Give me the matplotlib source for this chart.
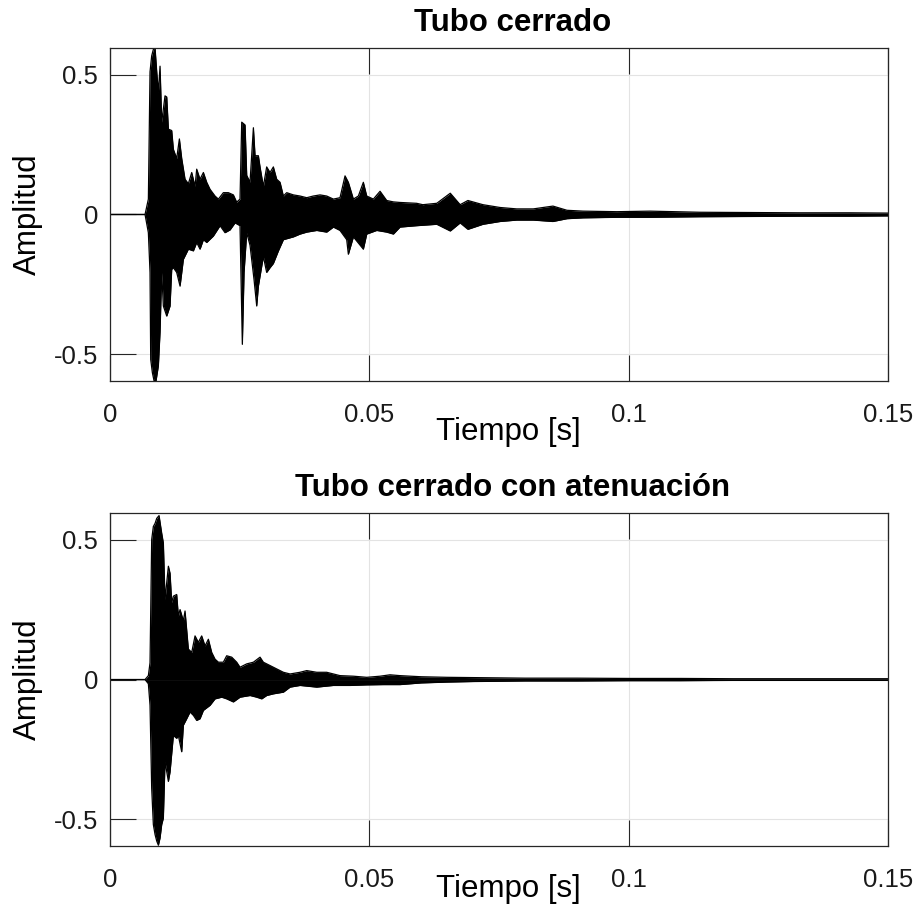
#!/usr/bin/env python3
"""
Respuesta al impulso de un tubo cerrado, con y sin atenuacion.
Envolventes (picos superior / inferior) leidas de la grafica original.
"""

import matplotlib
matplotlib.use("Agg")
import matplotlib.pyplot as plt

# --- Tubo cerrado: picos positivos (tiempo [s], amplitud) ---
closed_t_hi = [0.0, 0.00675, 0.00739, 0.00771, 0.00803, 0.00835, 0.00868, 0.00900, 0.00932, 0.00964,
               0.00996, 0.01060, 0.01093, 0.01125, 0.01189, 0.01221, 0.01285, 0.01337, 0.01382, 0.01446,
               0.01510, 0.01575, 0.01639, 0.01671, 0.01735, 0.01800, 0.01864, 0.01928, 0.02024, 0.02089,
               0.02185, 0.02281, 0.02378, 0.02442, 0.02506, 0.02539, 0.02603, 0.02635, 0.02699, 0.02764,
               0.02796, 0.02860, 0.02892, 0.02956, 0.03020, 0.03085, 0.03149, 0.03213, 0.03278, 0.03342,
               0.03406, 0.03535, 0.03663, 0.03792, 0.03920, 0.04049, 0.04177, 0.04306, 0.04434, 0.04531,
               0.04595, 0.04692, 0.04788, 0.04884, 0.04949, 0.05077, 0.05206, 0.05334, 0.05463, 0.05591,
               0.0591, 0.0603, 0.0630, 0.0656, 0.0675, 0.0690, 0.0719, 0.0752, 0.0784, 0.0816,
               0.0854, 0.0881, 0.0912, 0.0977, 0.1041, 0.1137, 0.1234, 0.1330, 0.1427, 0.1500]
closed_hi = [0.0, 0.0, 0.055, 0.51, 0.567, 0.59, 0.594, 0.51, 0.437, 0.53,
             0.33, 0.424, 0.42, 0.305, 0.30, 0.233, 0.20, 0.27, 0.20, 0.126,
             0.11, 0.15, 0.10, 0.162, 0.126, 0.15, 0.115, 0.09, 0.066, 0.055,
             0.078, 0.078, 0.07, 0.044, 0.055, 0.33, 0.32, 0.14, 0.115, 0.31,
             0.21, 0.21, 0.17, 0.10, 0.17, 0.15, 0.17, 0.126, 0.115, 0.066,
             0.078, 0.07, 0.066, 0.06, 0.066, 0.07, 0.066, 0.055, 0.06, 0.138,
             0.115, 0.055, 0.066, 0.115, 0.066, 0.055, 0.083, 0.05, 0.045, 0.043,
             0.04, 0.035, 0.04, 0.076, 0.035, 0.05, 0.035, 0.025, 0.02, 0.02,
             0.03, 0.015, 0.012, 0.01, 0.012, 0.008, 0.007, 0.006, 0.006, 0.005]

# --- Tubo cerrado: picos negativos ---
closed_t_lo = [0.0, 0.00675, 0.00739, 0.00771, 0.00784, 0.00816, 0.00848, 0.00887, 0.00932, 0.00964,
               0.00996, 0.01028, 0.01093, 0.01157, 0.01189, 0.01221, 0.01285, 0.01350, 0.01414, 0.01510,
               0.01607, 0.01671, 0.01735, 0.01800, 0.01864, 0.01992, 0.02121, 0.02217, 0.02314, 0.02410,
               0.02506, 0.02551, 0.02584, 0.02635, 0.02699, 0.02776, 0.02828, 0.02860, 0.02956, 0.03020,
               0.03085, 0.03149, 0.03246, 0.03342, 0.03535, 0.03663, 0.03792, 0.03985, 0.04177, 0.04306,
               0.04434, 0.04563, 0.04595, 0.04692, 0.04884, 0.04949, 0.05141, 0.05334, 0.05463, 0.05591,
               0.0591, 0.0630, 0.0656, 0.0675, 0.0690, 0.0719, 0.0752, 0.0784, 0.0816, 0.0854,
               0.0881, 0.0912, 0.0977, 0.1041, 0.1137, 0.1234, 0.1330, 0.1427, 0.1500]
closed_lo = [0.0, 0.0, -0.065, -0.207, -0.518, -0.565, -0.594, -0.594, -0.54, -0.42,
             -0.207, -0.327, -0.363, -0.327, -0.196, -0.19, -0.207, -0.256, -0.16, -0.124,
             -0.13, -0.10, -0.124, -0.09, -0.10, -0.077, -0.04, -0.065, -0.055, -0.03,
             -0.04, -0.464, -0.207, -0.065, -0.11, -0.232, -0.327, -0.256, -0.15, -0.207,
             -0.19, -0.175, -0.13, -0.09, -0.08, -0.07, -0.063, -0.057, -0.063, -0.045,
             -0.057, -0.09, -0.142, -0.08, -0.124, -0.07, -0.057, -0.063, -0.07, -0.045,
             -0.04, -0.035, -0.059, -0.03, -0.053, -0.035, -0.025, -0.02, -0.02, -0.025,
             -0.015, -0.012, -0.01, -0.01, -0.008, -0.007, -0.006, -0.006, -0.005]

# --- Tubo cerrado con atenuacion: picos positivos ---
damped_t_hi = [0.0, 0.00675, 0.00739, 0.00771, 0.00803, 0.00835, 0.00868, 0.00900, 0.00945, 0.00996,
               0.01028, 0.01060, 0.01125, 0.01157, 0.01189, 0.01221, 0.01285, 0.01317, 0.01350, 0.01414,
               0.01446, 0.01510, 0.01575, 0.01639, 0.01703, 0.01767, 0.01832, 0.01896, 0.01960, 0.02024,
               0.02089, 0.02185, 0.02249, 0.02346, 0.02442, 0.02506, 0.02635, 0.02764, 0.02892, 0.02956,
               0.03085, 0.03213, 0.03342, 0.03471, 0.03663, 0.03792, 0.03985, 0.04177, 0.04306, 0.04434,
               0.04692, 0.04949, 0.05206, 0.05399, 0.05591, 0.0600, 0.0650, 0.0700, 0.0800, 0.0900,
               0.1000, 0.1100, 0.1200, 0.1500]
damped_hi = [0.0, 0.0, 0.014, 0.06, 0.50, 0.547, 0.558, 0.576, 0.586, 0.523,
             0.488, 0.286, 0.405, 0.38, 0.275, 0.298, 0.304, 0.227, 0.25, 0.21,
             0.245, 0.109, 0.097, 0.156, 0.133, 0.156, 0.12, 0.144, 0.097, 0.073,
             0.062, 0.062, 0.085, 0.08, 0.062, 0.044, 0.056, 0.062, 0.08, 0.062,
             0.05, 0.038, 0.026, 0.02, 0.026, 0.032, 0.026, 0.026, 0.02, 0.014,
             0.012, 0.008, 0.012, 0.017, 0.014, 0.01, 0.008, 0.007, 0.005, 0.005,
             0.004, 0.004, 0.003, 0.003]

# --- Tubo cerrado con atenuacion: picos negativos ---
damped_t_lo = [0.0, 0.00675, 0.00739, 0.00771, 0.00803, 0.00835, 0.00868, 0.00900, 0.00932, 0.00964,
               0.00996, 0.01028, 0.01060, 0.01125, 0.01157, 0.01221, 0.01285, 0.01317, 0.01382, 0.01414,
               0.01478, 0.01542, 0.01607, 0.01671, 0.01735, 0.01800, 0.01928, 0.02024, 0.02153, 0.02249,
               0.02378, 0.02506, 0.02699, 0.02828, 0.02924, 0.03020, 0.03149, 0.03342, 0.03471, 0.03663,
               0.03985, 0.04306, 0.04627, 0.04949, 0.05270, 0.05591, 0.0600, 0.0650, 0.0700, 0.0800,
               0.0900, 0.1000, 0.1100, 0.1200, 0.1500]
damped_lo = [0.0, 0.0, -0.015, -0.092, -0.388, -0.518, -0.554, -0.577, -0.592, -0.566,
             -0.518, -0.495, -0.293, -0.364, -0.33, -0.20, -0.21, -0.20, -0.258, -0.163,
             -0.14, -0.116, -0.128, -0.146, -0.14, -0.11, -0.092, -0.069, -0.063, -0.069,
             -0.08, -0.063, -0.057, -0.063, -0.069, -0.057, -0.051, -0.045, -0.027, -0.021,
             -0.027, -0.021, -0.021, -0.019, -0.018, -0.018, -0.012, -0.009, -0.007, -0.005,
             -0.005, -0.004, -0.004, -0.003, -0.003]

titles = ["Tubo cerrado", "Tubo cerrado con atenuación"]
x_ticks = [0, 0.05, 0.1, 0.15]
x_tick_labels = ["0", "0.05", "0.1", "0.15"]
y_ticks = [-0.5, 0, 0.5]
y_tick_labels = ["-0.5", "0", "0.5"]

DARK = "#262626"
GRID = "#e3e3e3"


def style_axes(ax, title, xlabel_y):
    """MATLAB-like look: inward long ticks, light grid, box."""
    ax.set_xlim(0, 0.15)
    ax.set_ylim(-0.595, 0.595)
    ax.set_xticks(x_ticks)
    ax.set_xticklabels(x_tick_labels)
    ax.set_yticks(y_ticks)
    ax.set_yticklabels(y_tick_labels)
    ax.tick_params(axis="x", direction="in", length=18.5, width=0.8, color=DARK,
                   top=True, bottom=True, labelsize=18.5, pad=15.5, labelcolor="#1a1a1a")
    ax.tick_params(axis="y", direction="in", length=18.5, width=0.8, color=DARK,
                   left=True, right=False, labelsize=18.5, pad=8.6, labelcolor="#1a1a1a")
    for sp in ax.spines.values():
        sp.set_color(DARK)
        sp.set_linewidth(0.9)
    ax.grid(True, color=GRID, linewidth=0.8)
    ax.set_axisbelow(True)
    ax.set_title(title, fontsize=22.5, fontweight="bold", pad=12, x=0.517)
    ax.set_xlabel("Tiempo [s]", fontsize=22.5, va="baseline")
    ax.xaxis.set_label_coords(0.5116, xlabel_y)
    ax.set_ylabel("Amplitud", fontsize=22.5)
    ax.yaxis.set_label_coords(-0.086, 0.5)


def draw_wave(ax, t_hi, hi, t_lo, lo):
    ax.fill_between(t_hi, 0, hi, color="black", linewidth=0)
    ax.fill_between(t_lo, lo, 0, color="black", linewidth=0)
    ax.plot(t_hi, hi, color="black", linewidth=0.9)
    ax.plot(t_lo, lo, color="black", linewidth=0.9)


def main():
    plt.rcParams["font.family"] = ["Liberation Sans", "DejaVu Sans"]
    fig = plt.figure(figsize=(9.17, 9.11), dpi=100)

    ax1 = fig.add_axes([0.12, 0.5818, 0.8484, 0.3655])
    draw_wave(ax1, closed_t_hi, closed_hi, closed_t_lo, closed_lo)
    style_axes(ax1, titles[0], -0.177)

    ax2 = fig.add_axes([0.12, 0.0713, 0.8484, 0.3655])
    draw_wave(ax2, damped_t_hi, damped_hi, damped_t_lo, damped_lo)
    style_axes(ax2, titles[1], -0.153)

    fig.savefig("out.png", dpi=100)


if __name__ == "__main__":
    main()
